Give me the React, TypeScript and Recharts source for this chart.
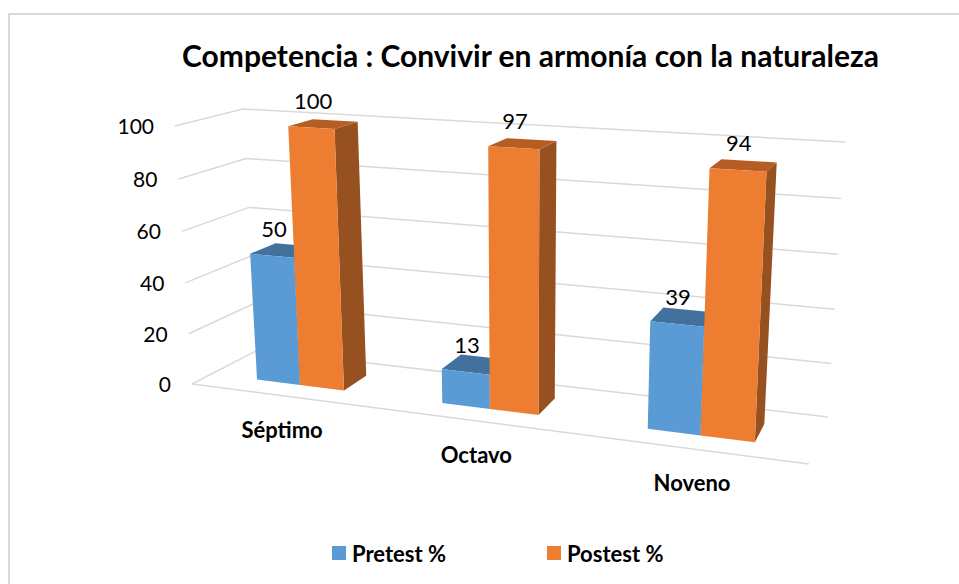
import React from "react";
import { Bar, BarChart, CartesianGrid, LabelList, Legend, XAxis, YAxis } from "recharts";

const grades = ["Séptimo", "Octavo", "Noveno"];
const pretest = [50, 13, 39];
const postest = [100, 97, 94];
const valueTicks = [0, 20, 40, 60, 80, 100];

const chartData = grades.map((grade, i) => ({
  grade,
  pretest: pretest[i],
  postest: postest[i],
}));

const WIDTH = 959;
const HEIGHT = 584;
const FONT = "Lato, 'Open Sans', sans-serif";

// corners of the 3D box as seen on the page
const floor = { fl: [192, 384], fr: [809, 464], bl: [258, 350], br: [828, 417] };
const roof = { fl: [175, 126], fr: [824, 164], bl: [243, 109], br: [845, 142] };

const lerp = (a: number, b: number, t: number) => a + (b - a) * t;

// perspective squeeze on the two flat chart directions
const warpX = (t: number) => t / (1 + 0.17 * (1 - t));
const warpY = (v: number) => v / (1 + 0.035 * (1 - v));

// flat plot position (px) + depth (0 front, 1 back) -> page position
function project(flatX: number, flatY: number, depth: number) {
  const u = warpX(flatX / WIDTH);
  const v = warpY(1 - flatY / HEIGHT);
  const corner = (c: typeof floor, k: 0 | 1) =>
    lerp(lerp(c.fl[k], c.fr[k], u), lerp(c.bl[k], c.br[k], u), depth);
  return [
    lerp(corner(floor, 0), corner(roof, 0), v),
    lerp(corner(floor, 1), corner(roof, 1), v),
  ];
}

const pts = (list: number[][]) => list.map((p) => `${p[0]},${p[1]}`).join(" ");

const DEPTH_FRONT = 0.3;
const DEPTH_BACK = 0.7;

function Box3D(props: any) {
  const { x, y, width, height, front, side, top } = props;
  const x2 = x + width;
  const y2 = y + height;
  const a = project(x, y2, DEPTH_FRONT);
  const b = project(x2, y2, DEPTH_FRONT);
  const c = project(x2, y, DEPTH_FRONT);
  const d = project(x, y, DEPTH_FRONT);
  const e = project(x2, y2, DEPTH_BACK);
  const f = project(x2, y, DEPTH_BACK);
  const g = project(x, y, DEPTH_BACK);
  return (
    <g>
      <polygon points={pts([b, e, f, c])} fill={side} />
      <polygon points={pts([d, c, f, g])} fill={top} />
      <polygon points={pts([a, b, c, d])} fill={front} />
    </g>
  );
}

function GridLine(props: any) {
  const { y1, index } = props;
  const frontLeft = project(0, y1, 0);
  const backLeft = project(0, y1, 1);
  const backRight = project(WIDTH, y1, 1);
  const isFloor = Math.abs(y1 - HEIGHT) < 1;
  const frontRight = project(WIDTH, y1, 0);
  return (
    <g key={index}>
      <polyline
        points={pts([frontLeft, backLeft, backRight])}
        fill="none"
        stroke="#d9d9d9"
        strokeWidth={1.5}
      />
      {isFloor && (
        <line
          x1={frontLeft[0]}
          y1={frontLeft[1]}
          x2={frontRight[0]}
          y2={frontRight[1]}
          stroke="#d9d9d9"
          strokeWidth={1.5}
        />
      )}
    </g>
  );
}

function ValueTick(props: any) {
  const { y, payload } = props;
  const p = project(0, y, 0);
  return (
    <text x={p[0] - 21} y={p[1] + 8} textAnchor="end" fontFamily={FONT} fontSize={21} fill="#000">
      {payload.value}
    </text>
  );
}

function GradeTick(props: any) {
  const { x, payload } = props;
  const p = project(x, HEIGHT, 0);
  return (
    <text x={p[0]} y={p[1] + 42} textAnchor="middle" fontFamily={FONT} fontSize={22} fontWeight={700} fill="#000">
      {payload.value}
    </text>
  );
}

function BarLabel(props: any) {
  const { x, y, width, value } = props;
  const d = project(x + width / 2, y, 0.33);
  return (
    <text x={d[0]} y={d[1] - 18} textAnchor="middle" fontFamily={FONT} fontSize={22} fill="#000">
      {value}
    </text>
  );
}

function LegendRow() {
  const items = [
    { name: "Pretest %", color: "#5b9bd5", left: 332 },
    { name: "Postest %", color: "#ed7d31", left: 547 },
  ];
  return (
    <div style={{ position: "relative", width: WIDTH, height: 30 }}>
      {items.map((it) => (
        <div key={it.name} style={{ position: "absolute", left: it.left, top: 0, display: "flex", alignItems: "center", height: 30 }}>
          <span style={{ width: 14, height: 14, background: it.color, marginRight: 6 }} />
          <span style={{ fontFamily: FONT, fontWeight: 700, fontSize: 22, color: "#000" }}>{it.name}</span>
        </div>
      ))}
    </div>
  );
}

export default function App() {
  return (
    <div style={{ position: "absolute", left: 0, top: 0, width: WIDTH, height: HEIGHT, overflow: "hidden", background: "#fff" }}>
      <div style={{ position: "absolute", left: 8, top: 13, width: 1000, height: 700, borderTop: "2px solid #d9d9d9", borderLeft: "2px solid #d9d9d9" }} />
      <div style={{ position: "absolute", left: 0, top: 37, width: 1061, textAlign: "center", fontFamily: FONT, fontWeight: 700, fontSize: 30, color: "#000", whiteSpace: "nowrap" }}>
        Competencia : Convivir en armonía con la naturaleza
      </div>
      <BarChart
        width={WIDTH}
        height={HEIGHT}
        data={chartData}
        margin={{ top: 0, right: 0, bottom: -1, left: -1 }}
        barCategoryGap="26%"
        barGap={0}
        style={{ position: "absolute", left: 0, top: 0 }}
      >
        <CartesianGrid vertical={false} horizontal={(p: any) => <GridLine {...p} />} />
        <XAxis dataKey="grade" height={1} axisLine={false} tickLine={false} tick={(p: any) => <GradeTick {...p} />} interval={0} />
        <YAxis width={1} domain={[0, 100]} ticks={valueTicks} interval={0} axisLine={false} tickLine={false} tick={(p: any) => <ValueTick {...p} />} />
        <Legend
          layout="horizontal"
          verticalAlign="middle"
          align="center"
          wrapperStyle={{ left: 0, top: 538, width: WIDTH }}
          content={() => <LegendRow />}
        />
        <Bar dataKey="pretest" name="Pretest %" isAnimationActive={false} shape={(p: any) => <Box3D {...p} front="#5b9bd5" side="#3d6f9e" top="#41719c" />}>
          <LabelList dataKey="pretest" content={(p: any) => <BarLabel {...p} />} />
        </Bar>
        <Bar dataKey="postest" name="Postest %" isAnimationActive={false} shape={(p: any) => <Box3D {...p} front="#ed7d31" side="#97501f" top="#b55d22" />}>
          <LabelList dataKey="postest" content={(p: any) => <BarLabel {...p} />} />
        </Bar>
      </BarChart>
    </div>
  );
}
